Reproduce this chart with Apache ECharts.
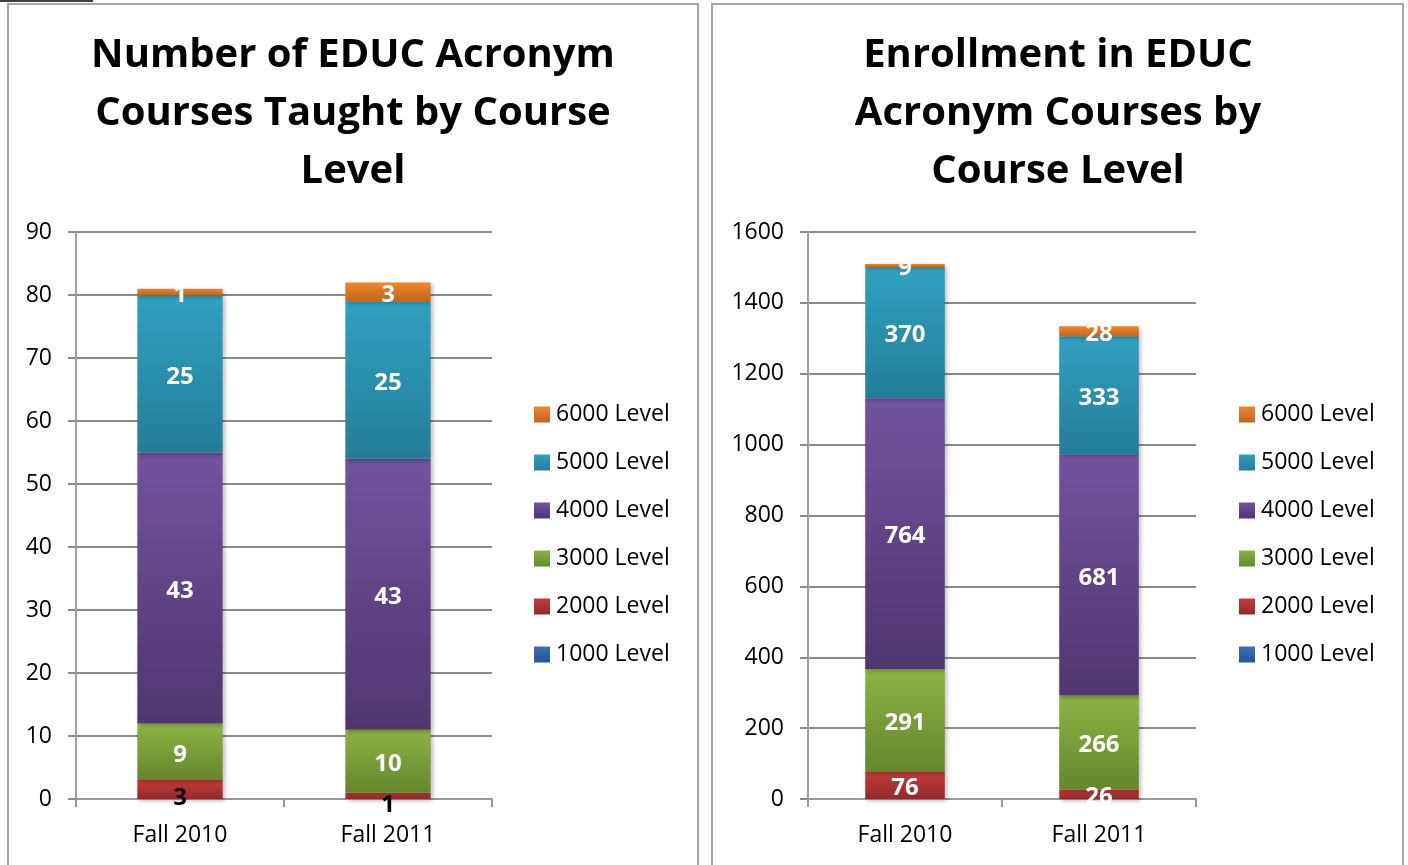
<!DOCTYPE html>
<html>
<head>
<meta charset="utf-8">
<script src="https://cdn.jsdelivr.net/npm/echarts@6/dist/echarts.min.js"></script>
<style>
  html, body { margin: 0; padding: 0; background: #fff; }
  #chart { width: 1408px; height: 865px; }
</style>
</head>
<body>
<div id="chart"></div>
<script>
// categories and levels
const terms = ['Fall 2010', 'Fall 2011']
const levels = ['1000 Level', '2000 Level', '3000 Level', '4000 Level', '5000 Level', '6000 Level']

// courses taught (left chart), one array per level
const courses1000 = [0, 0]
const courses2000 = [3, 1]
const courses3000 = [9, 10]
const courses4000 = [43, 43]
const courses5000 = [25, 25]
const courses6000 = [1, 3]

// enrollment (right chart)
const enroll1000 = [0, 0]
const enroll2000 = [76, 26]
const enroll3000 = [291, 266]
const enroll4000 = [764, 681]
const enroll5000 = [370, 333]
const enroll6000 = [9, 28]

const coursesTicks = { min: 0, max: 90, interval: 10 }
const enrollTicks = { min: 0, max: 1600, interval: 200 }

const courseData = [courses1000, courses2000, courses3000, courses4000, courses5000, courses6000]
const enrollData = [enroll1000, enroll2000, enroll3000, enroll4000, enroll5000, enroll6000]

// top / bottom colour of each level's gradient
const palette = [
  ['#3A70B8', '#2A5490'],
  ['#C43C3C', '#952828'],
  ['#8EB345', '#65862C'],
  ['#72539D', '#4E376F'],
  ['#30A1BF', '#247D97'],
  ['#F0872B', '#C2641B']
]

const font = 'Open Sans'

function grad(i) {
  return new echarts.graphic.LinearGradient(0, 0, 0, 1, [
    { offset: 0, color: palette[i][0] },
    { offset: 1, color: palette[i][1] }
  ])
}

function makeSeries(data, idx, stack) {
  return data.map((vals, i) => {
    const dark = idx === 0 && i === 1
    return {
      name: levels[i],
      type: 'bar',
      stack: stack,
      xAxisIndex: idx,
      yAxisIndex: idx,
      barWidth: '41%',
      data: vals,
      itemStyle: {
        color: grad(i),
        shadowColor: 'rgba(0,0,0,0.25)',
        shadowBlur: 4,
        shadowOffsetX: 2,
        shadowOffsetY: 2
      },
      label: {
        show: true,
        position: 'inside',
        offset: dark ? [0, 9] : [0, 3],
        color: dark ? '#000' : '#fff',
        fontFamily: font,
        fontWeight: 'bold',
        fontSize: 24,
        formatter: p => (p.value === 0 ? '' : p.value)
      }
    }
  })
}

function xAxis(idx) {
  return {
    type: 'category',
    gridIndex: idx,
    data: terms,
    axisLine: { lineStyle: { color: '#999', width: 2 } },
    axisTick: { show: true, length: 8, lineStyle: { color: '#999', width: 2 } },
    axisLabel: { color: '#000', fontFamily: font, fontSize: 23, margin: 25 }
  }
}

function yAxis(idx, ticks) {
  return {
    type: 'value',
    gridIndex: idx,
    min: ticks.min,
    max: ticks.max,
    interval: ticks.interval,
    axisLine: { show: true, lineStyle: { color: '#a0a0a0', width: 2 } },
    axisTick: { show: true, length: 8, lineStyle: { color: '#8a8a8a', width: 2 } },
    splitLine: { lineStyle: { color: '#8a8a8a', width: 2 } },
    axisLabel: { color: '#000', fontFamily: font, fontSize: 23, margin: 24, formatter: v => String(v) }
  }
}

function legend(left) {
  return {
    orient: 'vertical',
    left: left,
    top: 403,
    padding: 0,
    icon: 'rect',
    itemWidth: 16,
    itemHeight: 16,
    itemGap: 25,
    selectedMode: false,
    data: levels.slice().reverse(),
    textStyle: { color: '#000', fontFamily: font, fontSize: 23, lineHeight: 23, padding: [0, 0, 0, 1] }
  }
}

const titleStyle = { color: '#000', fontFamily: font, fontSize: 40, fontWeight: 'bold', lineHeight: 58 }

const myChart = echarts.init(document.getElementById('chart'))
myChart.setOption({
  animation: false,
  title: [
    {
      text: 'Number of EDUC Acronym\nCourses Taught by Course\nLevel',
      left: 353,
      top: 27,
      padding: 0,
      textAlign: 'center',
      textStyle: titleStyle
    },
    {
      text: 'Enrollment in EDUC\nAcronym Courses by\nCourse Level',
      left: 1058,
      top: 27,
      padding: 0,
      textAlign: 'center',
      textStyle: titleStyle
    }
  ],
  legend: [legend(534), legend(1239)],
  grid: [
    { left: 76, right: 916, top: 232, bottom: 66 },
    { left: 808, right: 212, top: 232, bottom: 66 }
  ],
  xAxis: [xAxis(0), xAxis(1)],
  yAxis: [yAxis(0, coursesTicks), yAxis(1, enrollTicks)],
  series: [...makeSeries(courseData, 0, 'courses'), ...makeSeries(enrollData, 1, 'enroll')],
  graphic: [
    // panel frames
    { type: 'polyline', shape: { points: [[8, 870], [8, 4], [698, 4], [698, 870]] }, style: { stroke: '#a6a6a6', lineWidth: 2, fill: null } },
    { type: 'polyline', shape: { points: [[712, 870], [712, 4], [1403, 4], [1403, 870]] }, style: { stroke: '#a6a6a6', lineWidth: 2, fill: null } },
    { type: 'line', shape: { x1: 0, y1: 1, x2: 93, y2: 1 }, style: { stroke: '#000', lineWidth: 1.5 } }
  ]
})
</script>
</body>
</html>
